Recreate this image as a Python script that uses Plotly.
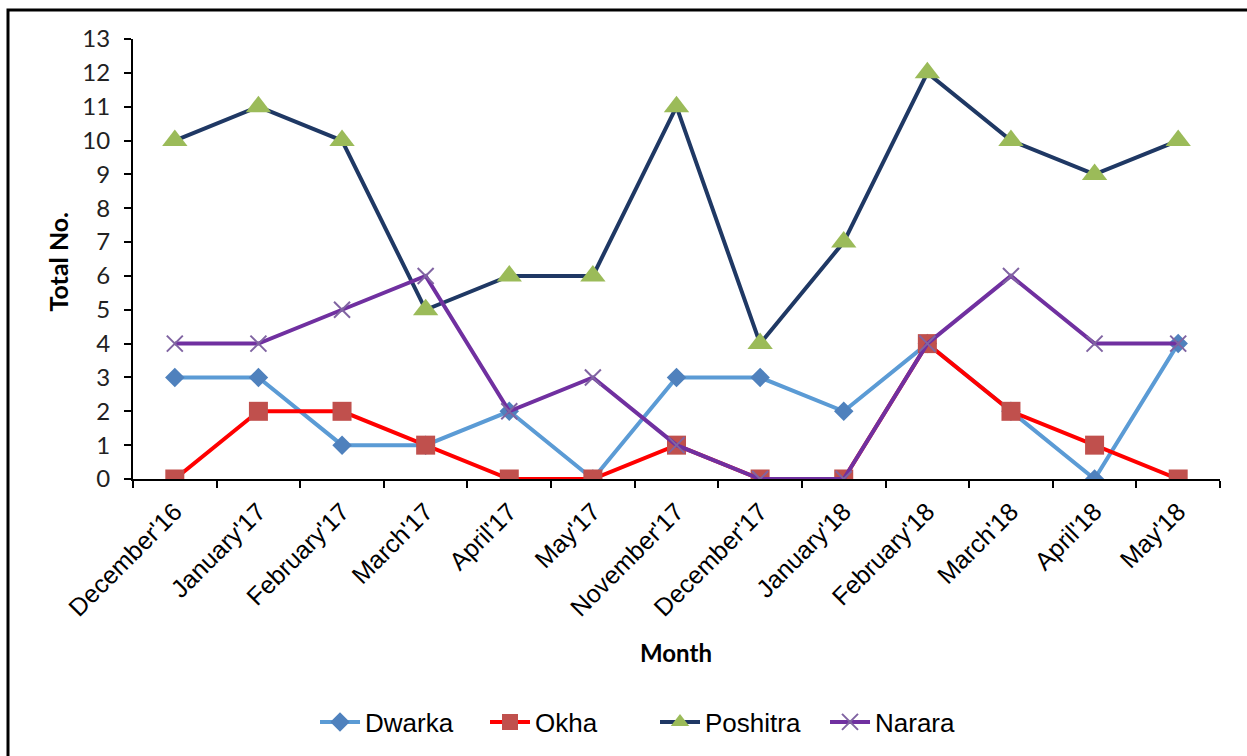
import plotly.graph_objects as go

months = ["December'16", "January'17", "February'17", "March'17", "April'17", "May'17",
          "November'17", "December'17", "January'18", "February'18", "March'18",
          "April'18", "May'18"]
dwarka = [3, 3, 1, 1, 2, 0, 3, 3, 2, 4, 2, 0, 4]
okha = [0, 2, 2, 1, 0, 0, 1, 0, 0, 4, 2, 1, 0]
poshitra = [10, 11, 10, 5, 6, 6, 11, 4, 7, 12, 10, 9, 10]
narara = [4, 4, 5, 6, 2, 3, 1, 0, 0, 4, 6, 4, 4]
y_ticks = list(range(0, 14))

W, H = 1247, 756
L, R, T, B = 133, 27, 39, 276
pw, ph = W - L - R, H - T - B


def px_x(x):
    return (x - L) / pw


def px_y(y):
    return (H - B - y) / ph


fig = go.Figure()
fig.add_trace(go.Scatter(
    x=months, y=dwarka, name="Dwarka", mode="lines+markers",
    line=dict(color="#5B9BD5", width=4),
    marker=dict(symbol="diamond", size=15, color="#4F81BD")))
fig.add_trace(go.Scatter(
    x=months, y=okha, name="Okha", mode="lines+markers",
    line=dict(color="#FF0000", width=4),
    marker=dict(symbol="square", size=19, color="#C0504D")))
fig.add_trace(go.Scatter(
    x=months, y=poshitra, name="Poshitra", mode="lines+markers",
    line=dict(color="#1F3864", width=4),
    marker=dict(symbol="triangle-up", size=22, color="#9BBB59")))
fig.add_trace(go.Scatter(
    x=months, y=narara, name="Narara", mode="lines+markers",
    line=dict(color="#7030A0", width=4),
    marker=dict(symbol="x-thin", size=16, line=dict(color="#8064A2", width=2))))

fig.update_layout(
    width=W, height=H,
    margin=dict(l=L, r=R, t=T, b=B),
    paper_bgcolor="white", plot_bgcolor="white",
    showlegend=True,
    legend=dict(orientation="h", x=px_x(655), y=px_y(722), xanchor="center",
                yanchor="middle", font=dict(family="Liberation Sans", size=26, color="black"),
                itemwidth=40, tracegroupgap=0, entrywidth=115, entrywidthmode="pixels"),
    xaxis=dict(
        type="category", categoryorder="array", categoryarray=months,
        range=[-0.5, len(months) - 0.5],
        showline=True, linecolor="black", linewidth=2,
        ticks="outside", tickson="boundaries", ticklen=7, tickwidth=2, tickcolor="black",
        tickangle=-45, ticklabelstandoff=6,
        tickfont=dict(family="Liberation Sans", size=25, color="black"),
        showgrid=False, zeroline=False),
    yaxis=dict(
        range=[0, 13], tickvals=y_ticks,
        showline=True, linecolor="black", linewidth=2,
        ticks="outside", ticklen=7, tickwidth=2, tickcolor="black",
        ticklabelstandoff=9,
        tickfont=dict(family="Lato", size=24, color="#222222"),
        showgrid=False, zeroline=False),
    yaxis2=dict(
        range=[0, 13], tickvals=y_ticks, overlaying="y", side="left", anchor="x",
        ticks="inside", ticklen=8, tickwidth=2, tickcolor="black",
        showticklabels=False, showline=False, showgrid=False, zeroline=False),
    annotations=[
        dict(text="<b>Total No.</b>", x=px_x(58), y=px_y(262), xref="paper", yref="paper",
             showarrow=False, textangle=-90, xanchor="center", yanchor="middle",
             font=dict(family="Lato", size=25, color="black")),
        dict(text="<b>Month</b>", x=px_x(676), y=px_y(654), xref="paper", yref="paper",
             showarrow=False, xanchor="center", yanchor="middle",
             font=dict(family="Lato", size=24, color="black")),
    ],
    shapes=[
        dict(type="rect", xref="paper", yref="paper",
             x0=px_x(8), x1=px_x(W + 20), y0=px_y(H + 20), y1=px_y(10),
             line=dict(color="black", width=3), fillcolor="rgba(0,0,0,0)", layer="below"),
    ],
)

fig.write_html("out.html")
